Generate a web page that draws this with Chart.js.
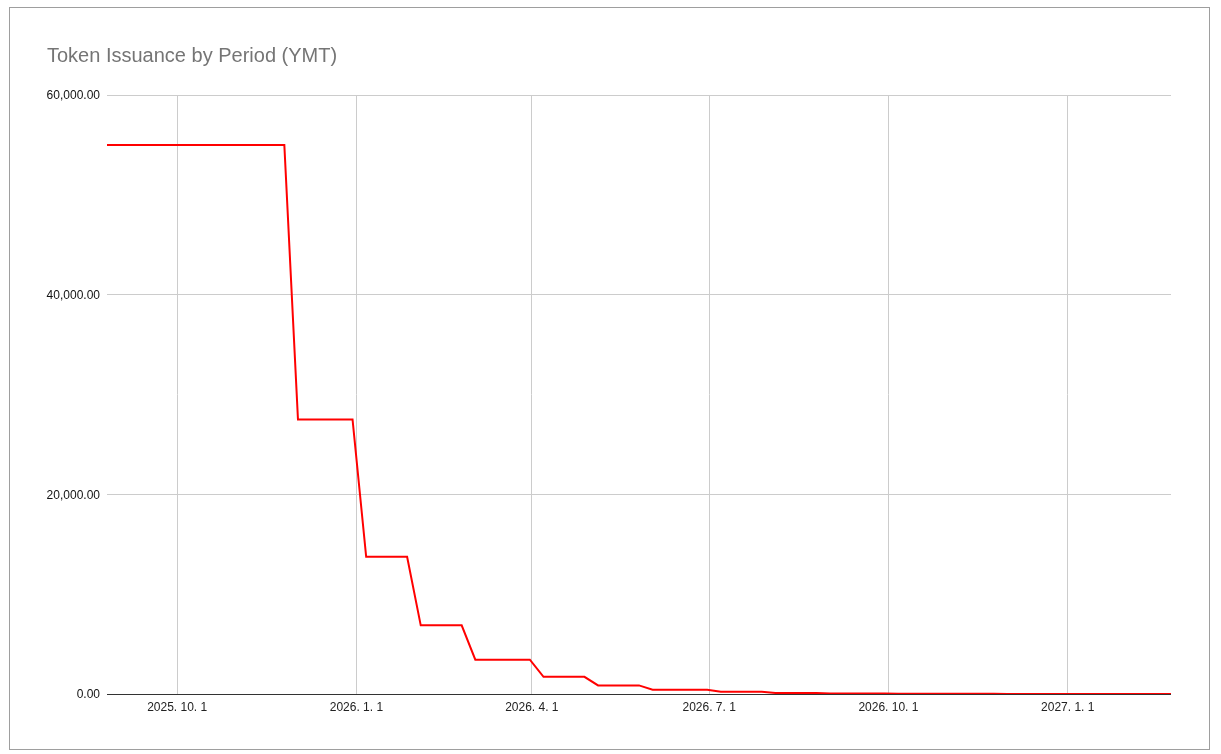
<!DOCTYPE html>
<html>
<head>
<meta charset="utf-8">
<script src="https://cdn.jsdelivr.net/npm/chart.js@4.4.1/dist/chart.umd.min.js"></script>
<style>
  html, body { margin: 0; padding: 0; background: #fff; }
  #wrap { position: relative; width: 1221px; height: 754px; }
</style>
</head>
<body>
<div id="wrap"><canvas id="c" width="1221" height="754"></canvas></div>
<script>
const chartTitle = "Token Issuance by Period (YMT)";

const dates = [
  "2025-08-26",
  "2025-09-02","2025-09-09","2025-09-16","2025-09-23","2025-09-30",
  "2025-10-07","2025-10-14","2025-10-21","2025-10-28",
  "2025-11-04","2025-11-11","2025-11-18","2025-11-25",
  "2025-12-02","2025-12-09","2025-12-16","2025-12-23","2025-12-30",
  "2026-01-06","2026-01-13","2026-01-20","2026-01-27",
  "2026-02-03","2026-02-10","2026-02-17","2026-02-24",
  "2026-03-03","2026-03-10","2026-03-17","2026-03-24","2026-03-31",
  "2026-04-07","2026-04-14","2026-04-21","2026-04-28",
  "2026-05-05","2026-05-12","2026-05-19","2026-05-26",
  "2026-06-02","2026-06-09","2026-06-16","2026-06-23","2026-06-30",
  "2026-07-07","2026-07-14","2026-07-21","2026-07-28",
  "2026-08-04","2026-08-11","2026-08-18","2026-08-25",
  "2026-09-01","2026-09-08","2026-09-15","2026-09-22","2026-09-29",
  "2026-10-06","2026-10-13","2026-10-20","2026-10-27",
  "2026-11-03","2026-11-10","2026-11-17","2026-11-24",
  "2026-12-01","2026-12-08","2026-12-15","2026-12-22","2026-12-29",
  "2027-01-05","2027-01-12","2027-01-19","2027-01-26",
  "2027-02-02","2027-02-09","2027-02-16","2027-02-23"
];

const issuance = [
  55000,
  55000, 55000, 55000, 55000, 55000,
  55000, 55000, 55000, 55000,
  55000, 55000, 55000, 55000,
  27500, 27500, 27500, 27500, 27500,
  13750, 13750, 13750, 13750,
  6875, 6875, 6875, 6875,
  3437.5, 3437.5, 3437.5, 3437.5, 3437.5,
  1718.75, 1718.75, 1718.75, 1718.75,
  859.38, 859.38, 859.38, 859.38,
  429.69, 429.69, 429.69, 429.69, 429.69,
  214.84, 214.84, 214.84, 214.84,
  107.42, 107.42, 107.42, 107.42,
  53.71, 53.71, 53.71, 53.71, 53.71,
  26.86, 26.86, 26.86, 26.86,
  13.43, 13.43, 13.43, 13.43,
  6.71, 6.71, 6.71, 6.71, 6.71,
  3.36, 3.36, 3.36, 3.36,
  1.68, 1.68, 1.68, 1.68
];

const xTickDates = ["2025-10-01", "2026-01-01", "2026-04-01", "2026-07-01", "2026-10-01", "2027-01-01"];
const xTickLabels = ["2025. 10. 1", "2026. 1. 1", "2026. 4. 1", "2026. 7. 1", "2026. 10. 1", "2027. 1. 1"];
const yTicks = [0, 20000, 40000, 60000];

function dayNum(s) {
  const p = s.split("-").map(Number);
  return Date.UTC(p[0], p[1] - 1, p[2]) / 86400000;
}

const points = dates.map((d, i) => ({ x: dayNum(d), y: issuance[i] }));
const xTickValues = xTickDates.map(dayNum);

const FONT = "'Liberation Sans', Arial, sans-serif";

const framePlugin = {
  id: 'frame',
  afterDraw(chart) {
    const ctx = chart.ctx;
    ctx.save();
    ctx.strokeStyle = '#9e9e9e';
    ctx.lineWidth = 1;
    ctx.strokeRect(9.5, 7.5, 1200, 742);
    ctx.fillStyle = '#757575';
    ctx.font = "20px " + FONT;
    ctx.textBaseline = 'alphabetic';
    ctx.textAlign = 'left';
    ctx.fillText(chartTitle, 47, 62);
    ctx.restore();
  }
};

new Chart(document.getElementById('c'), {
  type: 'line',
  data: {
    datasets: [{
      data: points,
      borderColor: '#ff0000',
      borderWidth: 2,
      pointRadius: 0,
      pointHoverRadius: 0,
      tension: 0,
      fill: false
    }]
  },
  options: {
    responsive: false,
    animation: false,
    layout: { padding: { top: 95, right: 50, left: 0, bottom: 0 } },
    plugins: { legend: { display: false }, tooltip: { enabled: false }, title: { display: false } },
    scales: {
      x: {
        type: 'linear',
        min: dayNum(dates[0]),
        max: dayNum(dates[dates.length - 1]),
        afterBuildTicks(scale) { scale.ticks = xTickValues.map(v => ({ value: v })); },
        afterFit(scale) { scale.height = 60; },
        grid: { color: '#cccccc', drawTicks: false, lineWidth: 1 },
        border: { display: false },
        ticks: {
          autoSkip: false,
          maxRotation: 0,
          padding: 6,
          color: '#222222',
          font: { family: FONT, size: 12 },
          callback(v) {
            const i = xTickValues.indexOf(v);
            return i >= 0 ? xTickLabels[i] : '';
          }
        }
      },
      y: {
        min: 0,
        max: 60000,
        afterBuildTicks(scale) { scale.ticks = yTicks.map(v => ({ value: v })); },
        afterFit(scale) { scale.width = 107; },
        grid: {
          drawTicks: false,
          color: ctx => (ctx.tick && ctx.tick.value === 0) ? '#333333' : '#cccccc',
          lineWidth: 1
        },
        border: { display: false },
        ticks: {
          padding: 7,
          labelOffset: 1,
          color: '#111111',
          font: { family: FONT, size: 12 },
          callback(v) {
            return Number(v).toLocaleString('en-US', { minimumFractionDigits: 2, maximumFractionDigits: 2 });
          }
        }
      }
    }
  },
  plugins: [framePlugin]
});
</script>
</body>
</html>
